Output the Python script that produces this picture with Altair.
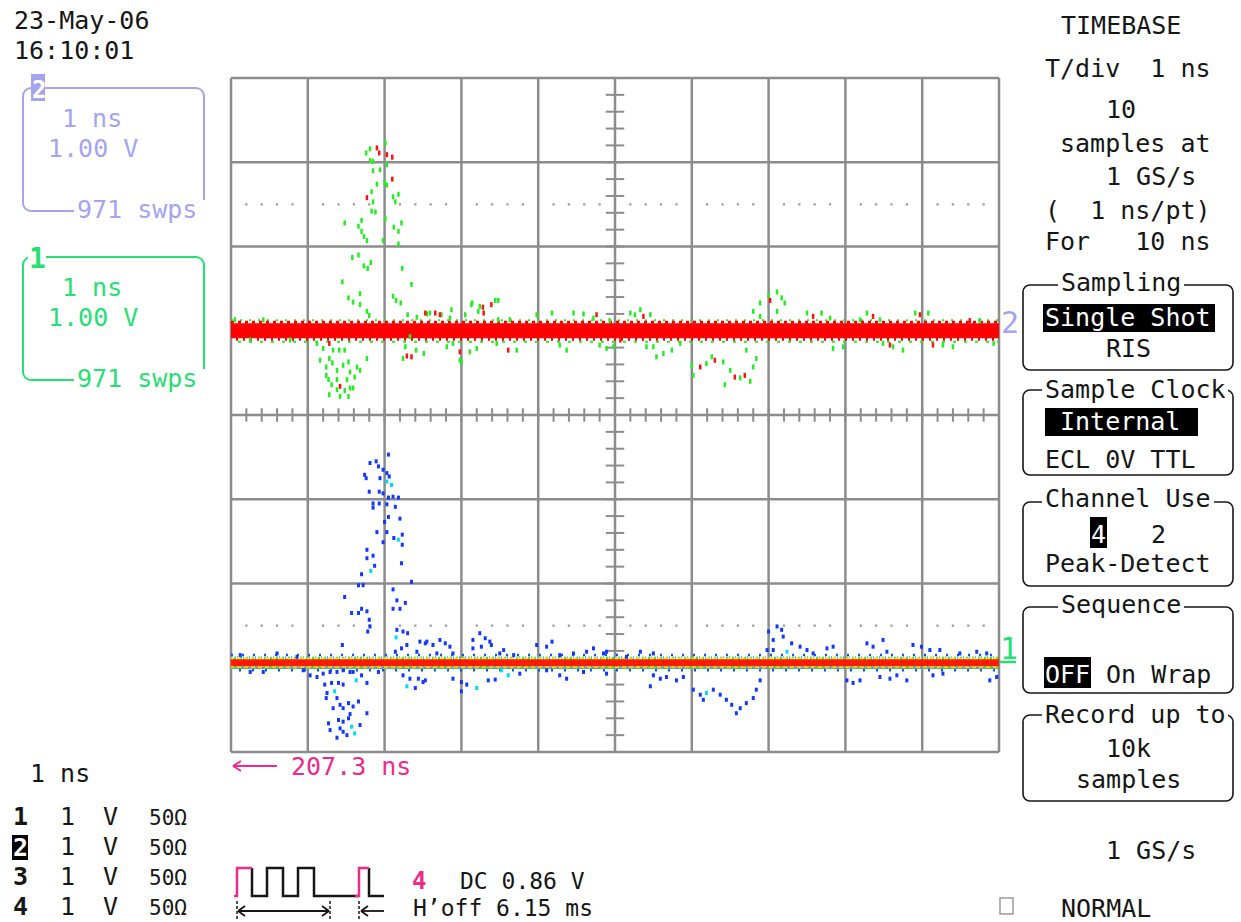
import altair as alt
import pandas as pd

# Graticule placement on the page (pixels) and the text face
X0, Y0 = 231, 78
W, H = 768, 674
PAGE_W, PAGE_H = 1241, 922
MONO = "DejaVu Sans Mono"
NB = "\u00a0"  # keeps runs of spaces in SVG text

# Channel 2 (upper trace): baseline level and scattered samples (time in ns, level in div)
ch2_level = 1.0
ch2_green_t = [1.76, 1.81, 2.01, 1.81, 1.85, 2.03, 1.85, 1.94, 2.00, 2.03, 1.90, 1.83, 1.85, 2.11, 2.18, 2.14,
               1.83, 1.88, 2.01, 1.70, 1.48, 1.66, 2.22, 2.12, 2.18, 1.70, 1.73, 1.77, 1.98, 2.18, 1.58, 1.66,
               1.82, 1.73, 1.78, 2.23, 1.45, 2.35, 1.68, 1.53, 1.59, 2.11, 2.15, 2.21, 1.68, 1.77, 1.80, 2.30,
               1.12, 1.20, 1.33, 1.41, 1.48, 1.16, 1.28, 1.32, 1.24, 1.38, 1.46, 1.53, 1.55, 1.64, 1.68, 1.77,
               1.24, 1.27, 1.38, 1.51, 1.61, 1.31, 1.48, 1.55, 1.59, 1.28, 1.42, 1.53, 1.38,
               2.27, 2.24, 2.41, 2.33, 2.42, 2.59, 2.85, 2.98, 3.14, 3.44,
               2.55, 2.74, 2.87, 3.05, 3.13, 3.24, 3.48, 3.22, 3.48, 3.63, 3.98, 4.18, 4.46, 4.59, 4.72,
               2.51, 2.81, 2.89, 3.00, 3.11, 3.20, 3.46, 3.72, 4.28, 4.37, 4.80, 4.98,
               4.89, 5.26, 5.33, 5.46, 5.20, 5.50, 5.54, 5.63, 5.74, 5.85, 6.00, 6.02, 6.19, 6.26, 6.41, 6.50,
               6.63, 6.76, 6.43, 6.80, 6.84, 6.71, 6.80, 6.89, 7.00, 7.11, 7.17, 7.21, 6.89, 7.11, 7.50, 7.69,
               7.80, 7.84, 7.97, 8.19, 8.28, 8.45, 8.49, 8.62, 8.75, 8.91, 9.08, 9.27, 9.40, 9.75, 9.93, 4.93,
               5.41, 0.05, 0.42, 0.77, 0.25]
ch2_green_v = [3.11, 3.16, 3.23, 3.02, 3.01, 2.97, 2.90, 2.91, 2.76, 2.73, 2.74, 2.65, 2.53, 2.59, 2.62, 2.53,
               2.42, 2.41, 2.33, 2.31, 2.28, 2.24, 2.28, 2.23, 2.18, 2.18, 2.12, 2.07, 2.07, 2.03, 1.87, 1.90,
               1.81, 1.77, 1.74, 1.74, 1.58, 1.55, 1.44, 1.39, 1.34, 1.41, 1.36, 1.33, 1.31, 1.23, 1.18, 1.19,
               0.85, 0.79, 0.77, 0.77, 0.77, 0.65, 0.67, 0.62, 0.57, 0.53, 0.59, 0.63, 0.51, 0.57, 0.53, 0.67,
               0.47, 0.42, 0.42, 0.42, 0.45, 0.36, 0.29, 0.32, 0.32, 0.24, 0.22, 0.22, 0.30,
               0.81, 0.67, 0.77, 0.93, 1.16, 1.21, 1.15, 0.65, 1.33, 1.36,
               1.20, 1.19, 1.25, 1.19, 1.31, 1.29, 1.36, 1.23, 1.13, 1.13, 1.19, 1.21, 1.21, 1.20, 1.15,
               0.73, 0.81, 0.85, 0.63, 0.75, 0.79, 0.85, 0.77, 0.83, 0.77, 0.83, 0.81,
               0.79, 1.19, 1.25, 1.19, 1.21, 0.81, 0.69, 0.73, 0.77, 0.85, 0.59, 0.47, 0.61, 0.69, 0.63, 0.53,
               0.44, 0.40, 0.36, 0.57, 0.67, 0.77, 1.23, 1.33, 1.42, 1.46, 1.39, 1.33, 1.17, 1.23, 1.21, 1.21,
               1.15, 0.79, 0.81, 1.13, 1.21, 1.13, 0.85, 0.81, 0.77, 1.21, 1.21, 0.83, 0.81, 1.12, 0.85, 1.12,
               0.81, 1.13, 1.13, 0.89, 0.89]
ch2_red_t = [1.90, 1.93, 2.03, 2.10, 2.10, 1.77, 2.53, 1.28, 1.42, 2.29, 2.35, 2.72, 3.28, 2.66, 3.29, 3.39,
             4.76, 2.98, 3.61, 5.07, 5.37, 6.11, 6.30, 6.56, 6.69, 7.02, 7.58, 8.36, 8.58, 8.97, 9.14, 9.62]
ch2_red_v = [3.17, 3.11, 3.09, 3.06, 2.80, 2.58, 1.21, 0.85, 0.34, 0.70, 0.69, 1.19, 1.28, 1.21, 1.21, 1.31,
             1.19, 0.75, 0.77, 0.89, 1.17, 0.57, 0.65, 0.45, 0.47, 1.36, 1.17, 1.17, 0.83, 1.19, 0.83, 1.12]

# Channel 1 (lower trace, persistence colours): baseline level and scattered samples
ch1_level = -2.94
ch1_blue_t = [2.05, 1.89, 1.81, 1.92, 1.98, 2.03, 1.74, 1.76, 1.94, 2.06, 1.80, 1.93, 1.98, 2.05, 2.11, 2.18,
              1.85, 1.93, 1.85, 2.03, 2.14, 2.05, 2.20, 2.00, 1.90, 2.03, 2.12, 2.23, 1.98, 2.23, 1.77, 1.85,
              1.77, 1.87, 2.22, 1.70, 1.66, 1.72, 2.35, 1.48, 2.11, 2.16, 2.27, 1.57, 1.66, 1.70, 1.77, 1.80,
              2.11, 2.20, 1.81, 1.78, 2.16, 2.24, 2.30, 1.45, 2.29, 2.22, 2.46, 2.53, 2.42, 2.14,
              1.03, 1.12, 1.20, 1.29, 1.38, 1.46, 1.55, 1.59, 1.22, 1.31, 1.40, 1.46, 1.25, 1.24, 1.38, 1.70,
              1.77, 1.92, 1.42, 1.46, 1.53, 1.59, 1.66, 1.55, 1.77, 1.33, 1.27, 1.40, 1.46, 1.53, 1.68, 1.42,
              1.46, 1.38, 1.51, 1.29,
              2.24, 2.33, 2.44, 2.40, 2.50,
              2.55, 2.63, 2.72, 2.79, 2.85, 2.68, 2.89, 3.15, 3.24, 3.31, 3.37, 3.39, 3.26, 3.15, 3.55, 3.50,
              3.68, 3.98, 4.11, 4.18, 4.28, 4.46, 4.63, 4.72, 4.85,
              2.53, 2.89, 3.00, 3.00, 3.07, 3.35, 3.44, 3.76, 4.11, 4.28, 4.37, 4.59, 4.89,
              4.89, 5.15, 5.33, 5.50, 7.00, 7.11, 7.17, 7.06, 7.19, 7.30, 6.98, 7.06, 7.41, 7.50, 7.58, 7.76,
              7.84, 8.28, 8.36, 8.49, 8.54, 8.88, 8.99, 9.10, 9.23, 9.49, 9.71, 9.84,
              5.50, 5.59, 5.67, 5.80, 5.89, 5.46, 6.02, 6.11, 6.28, 6.37, 6.45, 6.52, 6.63, 6.71, 6.58, 6.80,
              6.84, 6.89, 6.15, 8.02, 8.10, 8.19, 8.45, 8.58, 8.67, 8.80, 9.14, 9.27, 9.88, 9.97,
              0.12, 0.42, 0.60, 0.86, 0.25, 0.94]
ch1_blue_v = [-0.47, -0.55, -0.57, -0.61, -0.65, -0.69, -0.71, -0.75, -0.75, -0.73, -0.91, -0.91, -0.93, -0.98,
              -0.97, -0.98, -1.05, -1.05, -1.10, -1.06, -1.09, -1.21, -1.23, -1.27, -1.39, -1.39, -1.46, -1.42,
              -1.51, -1.54, -1.60, -1.67, -1.70, -1.79, -1.76, -1.89, -2.02, -2.02, -1.98, -2.16, -2.07, -2.20,
              -2.23, -2.35, -2.35, -2.30, -2.33, -2.43, -2.30, -2.30, -2.51, -2.57, -2.55, -2.57, -2.59, -2.73,
              -2.73, -2.77, -2.69, -2.71, -2.81, -2.81,
              -3.09, -3.11, -3.07, -3.05, -3.05, -3.03, -3.05, -3.05, -3.20, -3.18, -3.18, -3.20, -3.30, -3.36,
              -3.36, -3.09, -3.18, -3.05, -3.44, -3.48, -3.42, -3.46, -3.40, -3.55, -3.54, -3.48, -3.66, -3.62,
              -3.64, -3.60, -3.68, -3.72, -3.76, -3.83, -3.80, -3.74,
              -3.09, -3.13, -3.13, -3.24, -3.17,
              -2.69, -2.73, -2.67, -2.71, -2.75, -2.83, -2.83, -2.67, -2.59, -2.65, -2.69, -2.73, -2.75, -2.77,
              -2.79, -2.83, -2.85, -2.73, -2.75, -2.69, -2.85, -2.83, -2.81, -2.77, -2.83,
              -3.15, -3.13, -3.17, -3.28, -3.20, -3.15, -3.14, -3.07, -3.03, -3.09, -3.13, -3.05, -3.07,
              -2.81, -2.87, -2.81, -2.83, -2.57, -2.51, -2.55, -2.67, -2.63, -2.71, -2.79, -2.79, -2.75, -2.79,
              -2.83, -2.77, -2.75, -2.71, -2.75, -2.67, -2.81, -2.73, -2.75, -2.79, -2.79, -2.83, -2.81, -2.83,
              -3.09, -3.13, -3.11, -3.15, -3.11, -3.22, -3.26, -3.32, -3.26, -3.32, -3.38, -3.44, -3.48, -3.42,
              -3.54, -3.36, -3.26, -3.15, -3.38, -3.15, -3.18, -3.15, -3.11, -3.13, -3.09, -3.15, -3.09, -3.07,
              -3.15, -3.11,
              -2.85, -3.05, -2.83, -2.87, -3.05, -3.03]
ch1_cyan_t = [2.03, 2.09, 2.18, 1.82, 2.15, 1.35, 1.63, 1.57, 2.29, 3.20, 3.61, 3.52, 7.24, 6.19, 1.61]
ch1_cyan_v = [-0.79, -0.83, -1.48, -1.85, -2.64, -3.28, -3.15, -3.70, -3.22, -3.24, -3.09, -3.03, -2.81, -3.30,
              -3.78]

# Graticule: 10 time divisions, 8 vertical divisions, fine marks every 0.2 div
div_t = list(range(0, 11))
div_v = list(range(-4, 5))
fine = [round(k * 0.2, 1) for k in range(0, 51)]
fine_v = [round(-4 + k * 0.2, 1) for k in range(0, 41)]
dotted_t = [f for f in fine if abs(f - round(f)) > 1e-6]

XS = alt.Scale(domain=[0, 10], nice=False, zero=False)
YS = alt.Scale(domain=[-4, 4], nice=False, zero=False)
GRID = "#8c8c8c"


def xq(field):
    return alt.X(field, type="quantitative", scale=XS, axis=None)


def yq(field):
    return alt.Y(field, type="quantitative", scale=YS, axis=None)


def px(field):
    return alt.X(field, type="quantitative", scale=None)


def py(field):
    return alt.Y(field, type="quantitative", scale=None)


layers = []

# --- graticule ---
layers.append(alt.Chart(pd.DataFrame({"t": div_t, "a": -4, "b": 4})).mark_rule(
    color=GRID, strokeWidth=2.5).encode(x=xq("t"), y=yq("a"), y2="b"))
layers.append(alt.Chart(pd.DataFrame({"v": div_v, "a": 0, "b": 10})).mark_rule(
    color=GRID, strokeWidth=2.5).encode(y=yq("v"), x=xq("a"), x2="b"))
layers.append(alt.Chart(pd.DataFrame({"v": fine_v, "a": 4.88, "b": 5.12})).mark_rule(
    color=GRID, strokeWidth=2).encode(y=yq("v"), x=xq("a"), x2="b"))
layers.append(alt.Chart(pd.DataFrame({"t": fine, "a": -0.08, "b": 0.08})).mark_rule(
    color=GRID, strokeWidth=2).encode(x=xq("t"), y=yq("a"), y2="b"))
dots = pd.DataFrame({"t": dotted_t * 2, "v": [2.5] * len(dotted_t) + [-2.5] * len(dotted_t)})
layers.append(alt.Chart(dots).mark_square(size=5, color="#9a9a9a", opacity=1).encode(x=xq("t"), y=yq("v")))


def band(level, color, width, dash=None, offset=0.0, dash_offset=0):
    style = dict(color=color, strokeWidth=width)
    if dash:
        style["strokeDash"] = dash
        style["strokeDashOffset"] = dash_offset
    df = pd.DataFrame({"a": [0], "b": [10], "v": [level + offset]})
    return alt.Chart(df).mark_rule(**style).encode(x=xq("a"), x2="b", y=yq("v"))


def scatter(t, v, color, length, thick):
    df = pd.DataFrame({"t": t, "v": v})
    return alt.Chart(df).mark_tick(orient="vertical", size=length, thickness=thick, color=color,
                                   opacity=1).encode(x=xq("t"), y=yq("v"))


# --- channel 2 trace ---
layers.append(band(ch2_level, "#22ee22", 2, [2, 7], 0.125))
layers.append(band(ch2_level, "#22ee22", 2, [3, 8], -0.13, 4))
layers.append(band(ch2_level, "#ff0000", 15))
layers.append(band(ch2_level, "#ff0000", 3, [3, 4], 0.1))
layers.append(band(ch2_level, "#ff0000", 3, [2, 5], -0.1, 2))
layers.append(scatter(ch2_green_t, ch2_green_v, "#22ee22", 5, 2.5))
layers.append(scatter(ch2_red_t, ch2_red_v, "#ff1010", 5, 2.5))

# --- channel 1 trace ---
layers.append(band(ch1_level, "#1a4cff", 2.5, [2, 9], 0.09))
layers.append(band(ch1_level, "#1a4cff", 2.5, [2, 11], -0.09, 5))
layers.append(band(ch1_level, "#10d8f0", 13, [1, 5]))
layers.append(band(ch1_level, "#2cf02c", 12, [2, 4], 0.0, 3))
layers.append(band(ch1_level, "#ffe600", 10, [4, 3], 0.0, 1))
layers.append(band(ch1_level, "#ff1a00", 7))
layers.append(scatter(ch1_blue_t, ch1_blue_v, "#1238ff", 4, 3))
layers.append(scatter(ch1_cyan_t, ch1_cyan_v, "#00dcf5", 4, 3))


# --- screen furniture around the graticule (page pixel positions) ---
def shift(rows, n):
    out = []
    for r in rows:
        r = list(r)
        for i in range(n):
            r[i] = r[i] - (X0 if i % 2 == 0 else Y0)
        out.append(r)
    return out


def rects(rows, **style):
    df = pd.DataFrame(shift(rows, 4), columns=["x", "y", "x2", "y2"])
    return alt.Chart(df).mark_rect(**style).encode(x=px("x"), x2="x2", y=py("y"), y2="y2")


def segs(rows, **style):
    df = pd.DataFrame(shift(rows, 4), columns=["x", "y", "x2", "y2"])
    return alt.Chart(df).mark_rule(**style).encode(x=px("x"), x2="x2", y=py("y"), y2="y2")


def texts(rows, color, size=25, weight="normal"):
    df = pd.DataFrame([(r[1] - X0, r[2] - Y0, r[0].replace(" ", NB)) for r in rows], columns=["x", "y", "s"])
    return alt.Chart(df).mark_text(align="left", baseline="alphabetic", font=MONO, fontSize=size,
                                   fontWeight=weight, color=color).encode(x=px("x"), y=py("y"), text="s:N")


def polyline(points, color):
    rows = []
    for seg, pts in enumerate(points):
        for k, (x, y) in enumerate(pts):
            rows.append({"x": x - X0, "y": y - Y0, "seg": seg, "o": k})
    return alt.Chart(pd.DataFrame(rows)).mark_line(color=color, strokeWidth=2.5).encode(
        x=px("x"), y=py("y"), detail="seg:N", order="o:Q")


LAV = "#a4a4f0"
GRN = "#26e074"
PINK = "#ee2a8c"
INK = "#161616"

# channel boxes on the left
layers.append(rects([(23, 88, 204, 211)], fillOpacity=0, stroke=LAV, strokeWidth=2, cornerRadius=8))
layers.append(rects([(23, 257, 204, 380)], fillOpacity=0, stroke=GRN, strokeWidth=2, cornerRadius=8))
# right-hand menu boxes
menu_boxes = [(1023, 285, 1233, 370), (1023, 390, 1233, 475), (1023, 502, 1233, 586),
              (1023, 607, 1233, 693), (1023, 715, 1233, 801)]
layers.append(rects(menu_boxes, fillOpacity=0, stroke=INK, strokeWidth=1.6, cornerRadius=7))
# gaps in box outlines behind titles
gaps = [(74, 200, 208, 224), (74, 369, 208, 393), (28, 249, 46, 265),
        (1058, 277, 1184, 293), (1042, 382, 1228, 398), (1042, 494, 1214, 510),
        (1058, 599, 1184, 615), (1042, 707, 1228, 723)]
layers.append(rects(gaps, fill="white", strokeWidth=0))
# channel 2 badge and inverted highlights
layers.append(rects([(31, 74, 45, 101)], fill=LAV, strokeWidth=0))
highlights = [(1043, 304, 1215, 332), (1045, 408, 1198, 436), (1090, 517, 1107, 548),
              (1044, 657, 1091, 688), (12, 835, 28, 860)]
layers.append(rects(highlights, fill="#000000", strokeWidth=0))
layers.append(rects([(1000, 898, 1013, 914)], fillOpacity=0, stroke="#9a9a9a", strokeWidth=1.5))

# trace marker tick at the right edge of the graticule
layers.append(segs([(1000, 662, 1016, 662)], color=GRN, strokeWidth=2.5))

# trigger pulse-train icon
layers.append(polyline([[(252, 868), (252, 896), (267, 896), (267, 868), (283, 868), (283, 896), (298, 896),
                         (298, 868), (314, 868), (314, 896), (359, 896)],
                        [(369, 868), (369, 896), (384, 896)]], INK))
layers.append(polyline([[(234, 896), (237, 896), (237, 868), (252, 868)],
                        [(355, 896), (359, 896), (359, 868), (369, 868)]], PINK))
layers.append(segs([(237, 901, 237, 921), (330, 901, 330, 921), (359, 901, 359, 921)],
                   color=INK, strokeWidth=1.5, strokeDash=[3, 2]))
layers.append(segs([(238, 911, 329, 911), (238, 911, 245, 906), (238, 911, 245, 916),
                    (329, 911, 322, 906), (329, 911, 322, 916), (361, 911, 384, 911),
                    (361, 911, 368, 906), (361, 911, 368, 916)], color=INK, strokeWidth=1.8))
# trigger delay arrow
layers.append(segs([(233, 766, 277, 766), (233, 766, 241, 761), (233, 766, 241, 771)],
                   color=PINK, strokeWidth=2))

# text
layers.append(texts([
    ("23-May-06", 14, 29), ("16:10:01", 14, 59),
    ("TIMEBASE", 1061, 34), ("T/div  1 ns", 1045, 77), ("10", 1106, 118), ("samples at", 1060, 152),
    ("1 GS/s", 1106, 185), ("(  1 ns/pt)", 1045, 219), ("For   10 ns", 1045, 250),
    ("Sampling", 1061, 291), ("RIS", 1106, 357),
    ("Sample Clock", 1045, 398), ("ECL 0V TTL", 1045, 468),
    ("Channel Use", 1045, 507), ("2", 1151, 543), ("Peak-Detect", 1045, 572),
    ("Sequence", 1061, 613), ("On Wrap", 1106, 683),
    ("Record up to", 1045, 723), ("10k", 1106, 757), ("samples", 1076, 788),
    ("1 GS/s", 1106, 859), ("NORMAL", 1061, 917),
    ("1 ns", 30, 782),
    ("1", 60, 825), ("V", 103, 825), ("1", 60, 855), ("V", 103, 855),
    ("1", 60, 885), ("V", 103, 885), ("1", 60, 915), ("V", 103, 915),
], INK))
layers.append(texts([("DC 0.86 V", 460, 889), ("H’off 6.15 ms", 413, 916)], INK, size=23))
layers.append(texts([("50Ω", 149, 825), ("50Ω", 149, 855), ("50Ω", 149, 885), ("50Ω", 149, 915)],
                    INK, size=21))
layers.append(texts([("1", 13, 825), ("3", 13, 885), ("4", 13, 915)], INK, weight="bold"))
layers.append(texts([("2", 13, 856)], "white", weight="bold"))
layers.append(texts([("Single Shot", 1045, 326), ("Internal", 1060, 430), ("4", 1091, 543),
                     ("OFF", 1045, 683)], "white"))
layers.append(texts([("2", 32, 98)], "white", size=24, weight="bold"))
layers.append(texts([("1 ns", 62, 127), ("1.00 V", 48, 157), ("971 swps", 77, 218)], LAV))
layers.append(texts([("2", 1001, 333)], LAV, size=30))
layers.append(texts([("1 ns", 62, 296), ("1.00 V", 48, 326), ("971 swps", 77, 387)], GRN))
layers.append(texts([("1", 29, 268)], GRN, size=28, weight="bold"))
layers.append(texts([("1", 1000, 659)], GRN, size=30))
layers.append(texts([("207.3 ns", 291, 775)], PINK))
layers.append(texts([("4", 412, 889)], PINK, size=24, weight="bold"))

chart = alt.layer(*layers).properties(
    width=W,
    height=H,
    padding={"left": X0, "top": Y0, "right": PAGE_W - X0 - W, "bottom": PAGE_H - Y0 - H},
    autosize=alt.AutoSizeParams(type="none"),
    background="white",
).configure_view(stroke=None)

chart.save("out.html", embed_options={"renderer": "svg", "actions": False})
